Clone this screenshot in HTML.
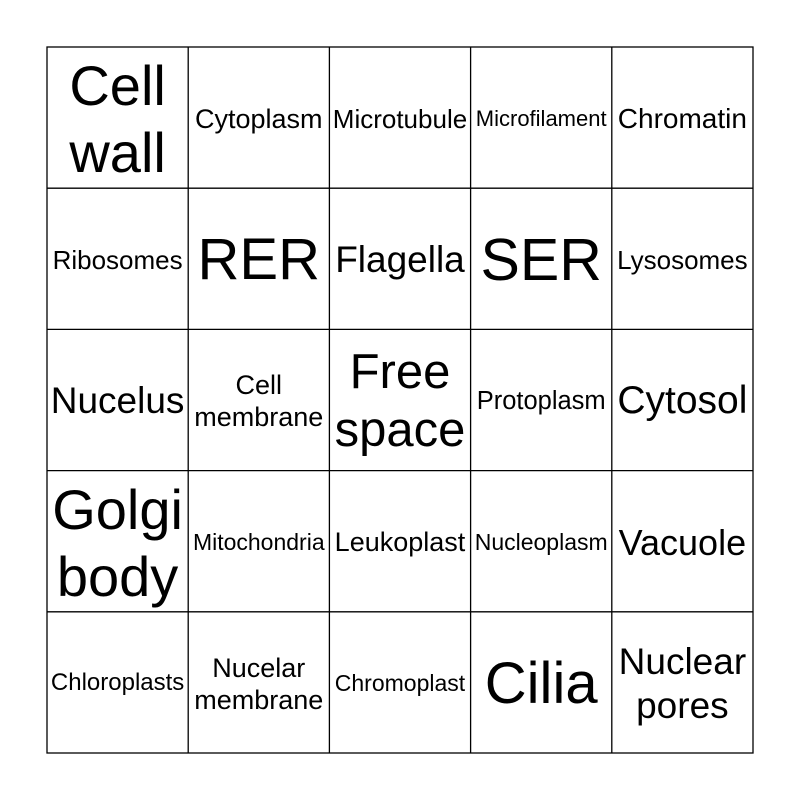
<!DOCTYPE html>
<html><head><style>
html,body{margin:0;padding:0;background:#fff;}
#g{position:absolute;left:47px;top:48.5px;width:706px;height:706px;}
.c{position:absolute;width:141.2px;height:141.2px;display:flex;align-items:center;justify-content:center;text-align:center;font-family:"Liberation Sans",Arial,sans-serif;line-height:1.2;color:#000;}
svg{position:absolute;left:0;top:0;}
</style></head><body>
<svg width="800" height="800">
<g stroke="#000" stroke-width="1.3" fill="none">
<rect x="47" y="47" width="706" height="706"/>
<line x1="188.2" y1="47" x2="188.2" y2="753"/>
<line x1="329.4" y1="47" x2="329.4" y2="753"/>
<line x1="470.6" y1="47" x2="470.6" y2="753"/>
<line x1="611.8" y1="47" x2="611.8" y2="753"/>
<line y1="188.2" x1="47" y2="188.2" x2="753"/>
<line y1="329.4" x1="47" y2="329.4" x2="753"/>
<line y1="470.6" x1="47" y2="470.6" x2="753"/>
<line y1="611.8" x1="47" y2="611.8" x2="753"/>
</g></svg>
<div id="g">
<div class="c" style="left:0;top:0;font-size:56px">Cell<br>wall</div>
<div class="c" style="left:141.2px;top:0;font-size:27px">Cytoplasm</div>
<div class="c" style="left:282.4px;top:0;font-size:26px">Microtubule</div>
<div class="c" style="left:423.6px;top:0;font-size:22px">Microfilament</div>
<div class="c" style="left:564.8px;top:0;font-size:28px">Chromatin</div>

<div class="c" style="left:0;top:141.2px;font-size:26px">Ribosomes</div>
<div class="c" style="left:141.2px;top:141.2px;font-size:58px">RER</div>
<div class="c" style="left:282.4px;top:141.2px;font-size:37px">Flagella</div>
<div class="c" style="left:423.6px;top:141.2px;font-size:59px">SER</div>
<div class="c" style="left:564.8px;top:141.2px;font-size:26px">Lysosomes</div>

<div class="c" style="left:0;top:282.4px;font-size:37px">Nucelus</div>
<div class="c" style="left:141.2px;top:282.4px;font-size:27px">Cell<br>membrane</div>
<div class="c" style="left:282.4px;top:282.4px;font-size:49px">Free<br>space</div>
<div class="c" style="left:423.6px;top:282.4px;font-size:25.5px">Protoplasm</div>
<div class="c" style="left:564.8px;top:282.4px;font-size:39px">Cytosol</div>

<div class="c" style="left:0;top:423.6px;font-size:56px">Golgi<br>body</div>
<div class="c" style="left:141.2px;top:423.6px;font-size:23px">Mitochondria</div>
<div class="c" style="left:282.4px;top:423.6px;font-size:27px">Leukoplast</div>
<div class="c" style="left:423.6px;top:423.6px;font-size:23px">Nucleoplasm</div>
<div class="c" style="left:564.8px;top:423.6px;font-size:36px">Vacuole</div>

<div class="c" style="left:0;top:564.8px;font-size:24px">Chloroplasts</div>
<div class="c" style="left:141.2px;top:564.8px;font-size:27px">Nucelar<br>membrane</div>
<div class="c" style="left:282.4px;top:564.8px;font-size:23px">Chromoplast</div>
<div class="c" style="left:423.6px;top:564.8px;font-size:58px">Cilia</div>
<div class="c" style="left:564.8px;top:564.8px;font-size:37px">Nuclear<br>pores</div>
</div>
</body></html>
